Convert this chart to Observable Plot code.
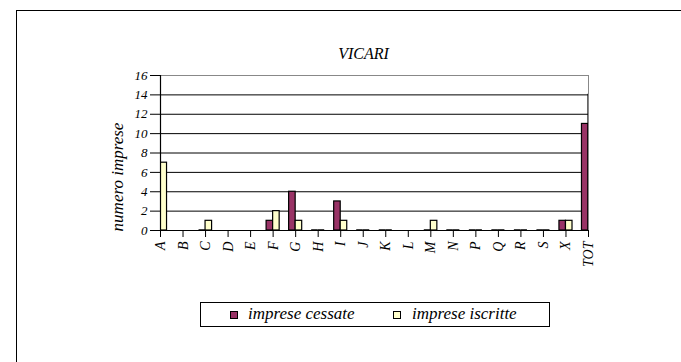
<!DOCTYPE html>
<html>
<head>
<meta charset="utf-8">
<script src="https://cdn.jsdelivr.net/npm/d3@7"></script>
<script src="https://cdn.jsdelivr.net/npm/@observablehq/plot@0.6"></script>
<style>
  body { margin: 0; background: #fff; }
  #wrap { position: relative; width: 681px; height: 362px; overflow: hidden; font-family: "Liberation Serif", "Times New Roman", serif; font-style: italic; }
  #frame { position: absolute; left: 16px; top: 10px; width: 700px; height: 400px; border-top: 1px solid #000; border-left: 1px solid #000; }
  #chart { position: absolute; left: 0; top: 0; }
  #chart svg text { font-family: "Liberation Serif", "Times New Roman", serif; font-style: italic; }
  #title { position: absolute; left: 0; width: 727px; top: 45px; text-align: center; font-size: 16px; }
  #ylabel { position: absolute; left: 118px; top: 177px; transform: translate(-50%, -50%) rotate(-90deg); font-size: 17px; white-space: nowrap; }
  #legend { position: absolute; left: 200px; top: 302px; width: 348px; height: 23px; border: 1px solid #000; font-size: 17px; }
  .sw { position: absolute; top: 8px; width: 6px; height: 6px; border: 1px solid #000; }
  .lt { position: absolute; top: 1px; white-space: nowrap; }
</style>
</head>
<body>
<div id="wrap">
  <div id="frame"></div>
  <div id="chart"></div>
  <div id="title">VICARI</div>
  <div id="ylabel">numero imprese</div>
  <div id="legend"></div>
</div>
<script>
const categories = ["A","B","C","D","E","F","G","H","I","J","K","L","M","N","P","Q","R","S","X","TOT"];
const cessate  = [null, null, 0, null, null, 1, 4, 0, 3, 0, 0, null, 0, 0, 0, 0, 0, 0, 1, 11];
const iscritte = [7, null, 1, null, null, 2, 1, 0, 1, 0, 0, null, 1, 0, 0, 0, 0, 0, 1, 14];
const seriesNames = ["imprese cessate", "imprese iscritte"];
const seriesColors = ["#993366", "#FFFFCC"];
const yTicks = [0, 2, 4, 6, 8, 10, 12, 14, 16];

const half = 0.29;
const rows = [];
categories.forEach((c, i) => {
  if (cessate[i] != null) rows.push({i, s: 0, v: cessate[i], x1: i - half, x2: i});
  if (iscritte[i] != null) rows.push({i, s: 1, v: iscritte[i], x1: i, x2: i + half});
});
const nonzero = rows.filter(d => d.v > 0);
const zeros = rows.filter(d => d.v === 0);

const chart = Plot.plot({
  width: 681,
  height: 362,
  marginLeft: 160,
  marginRight: 93,
  marginTop: 75,
  marginBottom: 132,
  style: {fontFamily: "'Liberation Serif', 'Times New Roman', serif", fontStyle: "italic", fontSize: "13px", background: "transparent", color: "#000"},
  x: {type: "linear", domain: [0, categories.length - 1]},
  y: {domain: [0, 16]},
  marks: [
    Plot.ruleY(yTicks.filter(d => d > 0 && d < 16), {stroke: "#000", strokeWidth: 1}),
    Plot.ruleY([16], {stroke: "#888", strokeWidth: 1}),
    Plot.ruleX([categories.length - 1], {stroke: "#888", strokeWidth: 1}),
    Plot.rect(nonzero, {
      x1: "x1", x2: "x2", y1: 0, y2: "v",
      fill: d => seriesColors[d.s],
      stroke: "#000", strokeWidth: 1.2,
      clip: true
    }),
    Plot.ruleY(zeros, {y: 0, x1: "x1", x2: "x2", stroke: "#000", strokeWidth: 2.5, clip: true}),
    Plot.ruleX([0], {stroke: "#000", strokeWidth: 1.2}),
    Plot.ruleY([0], {stroke: "#000", strokeWidth: 1.2}),
    Plot.axisY({ticks: yTicks, tickSize: 10, tickPadding: 3, label: null, fontSize: 13}),
    Plot.axisX({ticks: d3.range(categories.length), tickFormat: i => categories[i], tickRotate: -90, tickSize: 7, tickPadding: 4, label: null, fontSize: 14})
  ]
});
document.getElementById("chart").appendChild(chart);

const legend = document.getElementById("legend");
const swX = [29, 192];
const txX = [47, 211];
seriesNames.forEach((n, k) => {
  const sw = document.createElement("div");
  sw.className = "sw";
  sw.style.left = swX[k] + "px";
  sw.style.background = seriesColors[k];
  legend.appendChild(sw);
  const t = document.createElement("div");
  t.className = "lt";
  t.style.left = txX[k] + "px";
  t.textContent = n;
  legend.appendChild(t);
});
</script>
</body>
</html>
